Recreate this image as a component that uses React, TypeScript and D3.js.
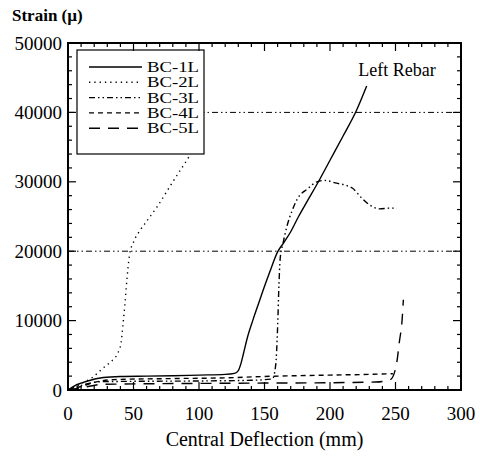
import React from "react";
import * as d3 from "d3";

// deflection (mm) / strain (micro)
const bc1L: [number, number][] = [
  [0, 0], [5, 600], [15, 1300], [27, 1800], [40, 1950], [60, 2000], [80, 2050],
  [100, 2150], [120, 2250], [127, 2400], [130, 2800], [132, 3800], [134, 5300],
  [137, 7600], [141, 10000], [145, 12200], [149, 14400], [154, 17000], [160, 19900],
  [165, 21300], [170, 22800], [176, 25000], [182, 27000], [192, 30300], [200, 33100],
  [210, 36600], [220, 40200], [228, 43800],
];
const bc2L: [number, number][] = [
  [0, 0], [5, 400], [10, 900], [19, 1870], [27, 3200], [34, 4300], [38, 5300],
  [40.5, 6800], [42, 9500], [43.5, 12500], [45, 16000], [47, 19500], [50, 21300],
  [55, 23000], [60, 24300], [68, 26400], [80, 30000], [92, 33500], [100, 36000],
];
const bc3L: [number, number][] = [
  [0, 0], [5, 350], [15, 900], [25, 1200], [50, 1250], [100, 1300], [140, 1400],
  [156, 1600], [158.5, 3500], [160, 9000], [161, 15000], [162, 19000], [164, 21000],
  [167, 23500], [171, 25800], [175, 27500], [183, 29000], [190, 30000], [196, 30200],
  [205, 29800], [212, 29500], [217, 29100], [224, 27700], [230, 26700], [238, 26100],
  [245, 26200], [251, 26200],
];
const bc4L: [number, number][] = [
  [0, 0], [10, 500], [20, 1100], [35, 1500], [80, 1650], [120, 1750], [150, 1950],
  [200, 2150], [230, 2250], [248, 2350],
];
const bc5L: [number, number][] = [
  [0, 0], [10, 300], [25, 800], [60, 900], [100, 950], [150, 1000], [200, 1050],
  [235, 1150], [246, 1500], [249, 2400], [251, 4000], [253, 7000], [255, 10000],
  [256, 13000],
];

const seriesNames = ["BC-1L", "BC-2L", "BC-3L", "BC-4L", "BC-5L"];
const seriesData = [bc1L, bc2L, bc3L, bc4L, bc5L];
const dashes = ["", "1.3,4", "6,3,1.5,3,1.5,3", "5,4", "11,8"];

const xTicks = [0, 50, 100, 150, 200, 250, 300];
const yTicks = [0, 10000, 20000, 30000, 40000, 50000];
const gridLevels = [20000, 40000];

const left = 68;
const right = 461;
const top = 43;
const bottom = 390;
const serif = "Liberation Serif, Times New Roman, DejaVu Serif, serif";

export default function App() {
  const x = d3.scaleLinear().domain([0, 300]).range([left, right]);
  const y = d3.scaleLinear().domain([0, 50000]).range([bottom, top]);
  const line = d3
    .line<[number, number]>()
    .x((d) => x(d[0]))
    .y((d) => y(d[1]))
    .curve(d3.curveMonotoneX);

  const xMinor = d3.range(0, 301, 10);
  const yMinor = d3.range(0, 50001, 2000);

  return (
    <svg width={480} height={457} style={{ position: "absolute", left: 0, top: 0, background: "#fff" }} fontFamily={serif}>
      <defs>
        <clipPath id="plot">
          <rect x={left} y={top} width={right - left} height={bottom - top} />
        </clipPath>
      </defs>

      {/* grid at 20000 / 40000 */}
      {gridLevels.map((g) => (
        <line key={g} x1={left} x2={right} y1={y(g)} y2={y(g)} stroke="#000" strokeWidth={1} strokeDasharray="6,3,1.5,3,1.5,3" />
      ))}

      <g clipPath="url(#plot)" fill="none" stroke="#000" strokeWidth={1.4}>
        {seriesData.map((s, i) => (
          <path key={i} d={line(s) || ""} strokeDasharray={dashes[i] || undefined} />
        ))}
      </g>

      {/* legend */}
      <rect x={77} y={50} width={127} height={104} fill="#fff" stroke="#000" strokeWidth={1.2} />
      {seriesNames.map((n, i) => {
        const ly = 67 + i * 15.3;
        return (
          <g key={n}>
            <line x1={89} x2={142} y1={ly} y2={ly} stroke="#000" strokeWidth={1.4} strokeDasharray={dashes[i] || undefined} />
            <text x={147} y={ly + 5} fontSize={15} fontFamily={serif} textLength={52} lengthAdjust="spacingAndGlyphs">{n}</text>
          </g>
        );
      })}
      <text x={397} y={76} fontSize={18} textAnchor="middle" fontFamily={serif}>Left Rebar</text>

      {/* frame and ticks */}
      <rect x={left} y={top} width={right - left} height={bottom - top} fill="none" stroke="#000" strokeWidth={2} />
      <g stroke="#000" strokeWidth={1.2}>
        {xMinor.map((v) => {
          const len = v % 50 === 0 ? 8 : 4;
          return (
            <g key={"x" + v}>
              <line x1={x(v)} x2={x(v)} y1={bottom} y2={bottom - len} />
              <line x1={x(v)} x2={x(v)} y1={top} y2={top + len} />
            </g>
          );
        })}
        {yMinor.map((v) => {
          const len = v % 10000 === 0 ? 8 : 4;
          return (
            <g key={"y" + v}>
              <line x1={left} x2={left + len} y1={y(v)} y2={y(v)} />
              <line x1={right} x2={right - len} y1={y(v)} y2={y(v)} />
            </g>
          );
        })}
      </g>

      {xTicks.map((v) => (
        <text key={v} x={x(v)} y={420} fontSize={19} textAnchor="middle" fontFamily={serif}>{v}</text>
      ))}
      {yTicks.map((v) => (
        <text key={v} x={62} y={y(v) + 6.5} fontSize={19} textAnchor="end" fontFamily={serif}>{v}</text>
      ))}

      <text x={12} y={21} fontSize={17} fontWeight="bold" fontFamily={serif}>Strain (µ)</text>
      <text x={(left + right) / 2} y={446} fontSize={20} textAnchor="middle" fontFamily={serif}>Central Deflection (mm)</text>
    </svg>
  );
}
